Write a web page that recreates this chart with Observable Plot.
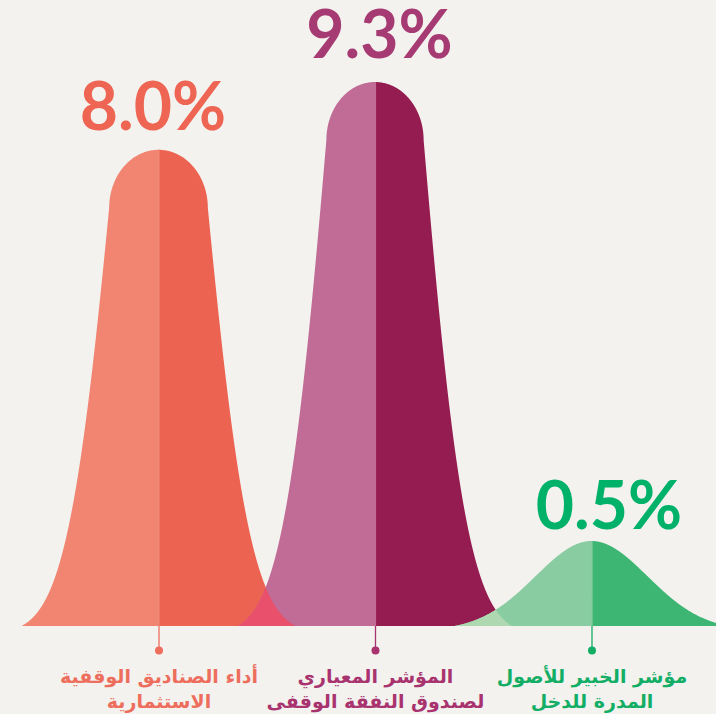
<!DOCTYPE html>
<html><head><meta charset="utf-8">
<script src="https://cdn.jsdelivr.net/npm/d3@7"></script>
<script src="https://cdn.jsdelivr.net/npm/@observablehq/plot@0.6"></script>
<style>
html,body{margin:0;padding:0;background:#F3F2EE;}
#chart{width:716px;height:714px;overflow:hidden}
</style></head><body><div id="chart"></div>
<script>
// ---- data ----
const categories = ["أداء الصناديق الوقفية الاستثمارية", "المؤشر المعياري لصندوق النفقة الوقفى", "مؤشر الخبير للأصول المدرة للدخل"];
const labelLine1 = ["أداء الصناديق الوقفية", "المؤشر المعياري", "مؤشر الخبير للأصول"];
const labelLine2 = ["الاستثمارية", "لصندوق النفقة الوقفى", "المدرة للدخل"];
const values = [8.0, 9.3, 0.5];
const valueLabels = ["8.0%", "9.3%", "0.5%"];
const positions = [0, 1, 2];

// ---- styles ----
const lightColors = ["#F18572", "#C06C97", "#89CCA2"];
const darkColors  = ["#EC6352", "#951C51", "#3DB673"];
const valueColors = ["#EE6553", "#A63A73", "#00B16A"];
const labelColors = ["#EE6E5E", "#A8336F", "#13AE66"];
const overlapColors = ["#E9506B", "#AED8AF"];
const valueOffsets = [{dx: -6, dy: -20}, {dx: 4, dy: -25}, {dx: 17, dy: -13}];

const W = 716, H = 714;
// the infographic exaggerates small values: piecewise display height
const display = d3.scaleLinear().domain([0, 0.5, 9.3]).range([0, 85, 544]);
const xOpts = {domain: [-0.7321, 2.5751], range: [0, W]};
const yOpts = {transform: v => display(v), domain: [0, 544], range: [626, 82]};
const xs = d3.scaleLinear().domain(xOpts.domain).range(xOpts.range);
const toY = h => display.invert(h);          // px height above baseline -> value
const toX = px => xs.invert(px);

// bell / bullet silhouette: half-width (px) for a height (px) above baseline
function profile(peak) {
  if (peak > 150) {
    const A = 1.62 * peak, k = 4100, e0 = Math.exp(-137 * 137 / k), domeH = 58, trunc = peak - domeH;
    const g = h => Math.sqrt(Math.max(0, -k * Math.log(h / A + e0)));
    const rx = g(trunc);
    const hw = h => h <= trunc ? g(h) : rx * Math.sqrt(Math.max(0, 1 - ((h - trunc) / domeH) ** 2));
    const hs = d3.range(0, trunc, 0.5).concat(d3.range(0, 91).map(a => trunc + domeH * Math.sin(a * Math.PI / 180)));
    return {hw, hs};
  } else {
    const k = 6272, e0 = Math.exp(-137 * 137 / k);
    const hw = h => Math.sqrt(Math.max(0, -k * Math.log(Math.min(1, h / peak * (1 - e0) + e0))));
    const hs = d3.range(0, 1.0001, 0.002).map(t => peak * (1 - (1 - t) ** 3));
    return {hw, hs};
  }
}

const shapes = positions.map((p, i) => {
  const c = xs(p);
  const peak = display(values[i]);
  const {hw, hs} = profile(peak);
  const rows = hs.map(h => ({y: toY(h), xl: toX(c - hw(h)), xc: p, xr: toX(c + hw(h))}));
  return {c, peak, hw, rows};
});

function overlapRows(L, R) {
  const rows = [];
  const top = Math.min(L.peak, R.peak);
  for (let h = 0; h <= top; h += 0.25) {
    const xr = L.c + L.hw(h), xl = R.c - R.hw(h);
    if (xr <= xl) { const m = (xr + xl) / 2; rows.push({y: toY(h), x1: toX(m), x2: toX(m)}); break; }
    rows.push({y: toY(h), x1: toX(xl), x2: toX(xr)});
  }
  return rows;
}

const marks = [];
shapes.forEach((s, i) => {
  marks.push(Plot.areaX(s.rows, {y: "y", x1: "xl", x2: "xc", fill: lightColors[i]}));
  marks.push(Plot.areaX(s.rows, {y: "y", x1: "xc", x2: "xr", fill: darkColors[i]}));
});
marks.push(Plot.areaX(overlapRows(shapes[0], shapes[1]), {y: "y", x1: "x1", x2: "x2", fill: overlapColors[0]}));
marks.push(Plot.areaX(overlapRows(shapes[1], shapes[2]), {y: "y", x1: "x1", x2: "x2", fill: overlapColors[1]}));

positions.forEach((p, i) => {
  const d = [{x: p, v: values[i]}];
  marks.push(Plot.ruleX(d, {x: "x", y1: 0, y2: "v", stroke: lightColors[i], strokeWidth: 1.2}));
  marks.push(Plot.ruleX(d, {x: "x", y1: 0, y2: 0, insetBottom: -24, stroke: labelColors[i], strokeWidth: 1.3}));
  marks.push(Plot.dot(d, {x: "x", y: 0, dy: 24, r: 4, fill: labelColors[i], stroke: null}));
  marks.push(Plot.text(d, {x: "x", y: "v", text: () => valueLabels[i], lineAnchor: "bottom",
    dx: valueOffsets[i].dx, dy: valueOffsets[i].dy, fill: valueColors[i],
    fontFamily: "Lato", fontWeight: 700, fontSize: 66}));
  marks.push(Plot.text(d, {x: "x", y: 0, text: () => labelLine1[i], lineAnchor: "bottom", dy: 56,
    fill: labelColors[i], fontFamily: "DejaVu Sans", fontWeight: 700, fontSize: 19}));
  marks.push(Plot.text(d, {x: "x", y: 0, text: () => labelLine2[i], lineAnchor: "bottom", dy: 81,
    fill: labelColors[i], fontFamily: "DejaVu Sans", fontWeight: 700, fontSize: 19}));
});

const chart = Plot.plot({
  width: W, height: H, margin: 0,
  x: {...xOpts, axis: null},
  y: {...yOpts, axis: null},
  style: {background: "#F3F2EE", overflow: "visible"},
  marks
});
document.getElementById("chart").appendChild(chart);
</script>
</body></html>
